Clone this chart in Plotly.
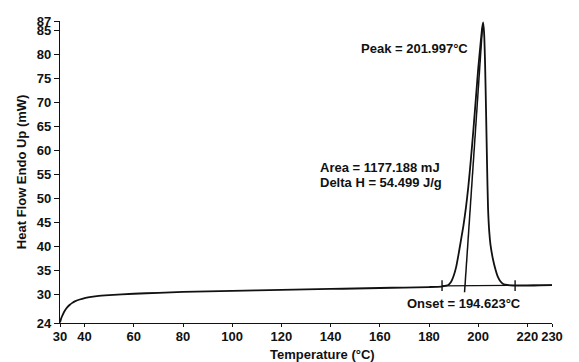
import plotly.graph_objects as go

# DSC heating scan: temperature (°C) vs heat flow (mW, endo up)
temperature = [30, 30.5, 31, 32, 33, 34, 35, 36, 38, 40, 42, 45, 50, 60, 70, 80, 90, 100,
               110, 120, 130, 140, 150, 160, 170, 180, 185, 187, 188, 189, 190, 191, 192,
               193, 194, 195, 196, 197, 198, 199, 200, 201, 201.6, 202, 202.4, 202.8,
               203.2, 203.6, 204, 204.5, 205, 206, 207, 208, 209, 210, 211, 213,
               216, 220, 225, 230]
heat_flow = [24.1, 25.0, 25.6, 26.6, 27.3, 27.8, 28.2, 28.5, 28.9, 29.2, 29.4, 29.6, 29.8,
             30.1, 30.3, 30.5, 30.6, 30.7, 30.8, 30.9, 31.0, 31.1, 31.2, 31.3, 31.4, 31.5,
             31.6, 31.8, 32.0, 32.6, 33.8, 35.6, 38.3, 41.3, 44.3, 48.0, 52.5, 58.0, 64.0,
             70.5, 77.0, 82.5, 85.5, 86.7, 84.5, 78.0, 68.0, 57.0, 48.0, 43.0, 40.3, 37.3,
             35.2, 33.6, 32.7, 32.2, 32.0, 31.85, 31.8, 31.8, 31.85, 31.9]

# Integration baseline and its limit markers
baseline_x = [185.3, 230]
baseline_y = [31.75, 31.9]
limit_x = [185.3, 215.0]
limit_half = 1.1

# Extrapolated onset tangent
onset_x = [194.45, 194.623, 201.7]
onset_y = [30.4, 31.75, 85.5]

x_ticks = [30, 40, 60, 80, 100, 120, 140, 160, 180, 200, 220, 230]
y_ticks = [24, 30, 35, 40, 45, 50, 55, 60, 65, 70, 75, 80, 85, 87]

font_family = "Liberation Sans, Arial, sans-serif"
ink = "#111111"

fig = go.Figure()
fig.add_trace(go.Scatter(x=temperature, y=heat_flow, mode="lines",
                         line=dict(color=ink, width=1.8, shape="spline", smoothing=0.6),
                         showlegend=False, hoverinfo="skip"))
fig.add_trace(go.Scatter(x=baseline_x, y=baseline_y, mode="lines",
                         line=dict(color=ink, width=1.2), showlegend=False))
for lx in limit_x:
    fig.add_trace(go.Scatter(x=[lx, lx], y=[31.8 - limit_half, 31.8 + limit_half],
                             mode="lines", line=dict(color=ink, width=1.4),
                             showlegend=False))
fig.add_trace(go.Scatter(x=onset_x, y=onset_y, mode="lines",
                         line=dict(color=ink, width=1.5), showlegend=False))

txt = dict(family=font_family, size=13, color=ink, weight="bold")
fig.add_annotation(x=196.8, y=81.3, text="Peak = 201.997°C", showarrow=False,
                   xanchor="right", yanchor="middle", font=txt)
fig.add_annotation(x=134.8, y=56.5, text="Area = 1177.188 mJ", showarrow=False,
                   xanchor="left", yanchor="middle", font=txt)
fig.add_annotation(x=134.8, y=53.4, text="Delta H = 54.499 J/g", showarrow=False,
                   xanchor="left", yanchor="middle", font=txt)
fig.add_annotation(x=170.2, y=28.0, text="Onset = 194.623°C", showarrow=False,
                   xanchor="left", yanchor="middle", font=txt)

# Axis titles
fig.add_annotation(x=136.9, y=-0.104, xref="x", yref="paper", text="Temperature (°C)",
                   showarrow=False, xanchor="center", yanchor="middle", font=txt)
fig.add_annotation(x=-0.079, y=0.5, xref="paper", yref="paper",
                   text="Heat Flow Endo Up (mW)", textangle=-90, showarrow=False,
                   xanchor="center", yanchor="middle", font=txt)

tick_font = dict(family=font_family, size=13, color=ink, weight="bold")
fig.update_layout(
    width=579, height=362,
    margin=dict(l=60, r=27, t=21, b=39),
    paper_bgcolor="white", plot_bgcolor="white",
    font=dict(family=font_family, size=13, color=ink),
    xaxis=dict(range=[30, 230], tickvals=x_ticks, ticktext=[str(v) for v in x_ticks],
               showgrid=False, zeroline=False, showline=True, linecolor=ink,
               linewidth=1.3, ticks="outside", ticklen=3, tickcolor=ink,
               ticklabelstandoff=-2, tickfont=tick_font, automargin=False),
    yaxis=dict(range=[24, 87], tickvals=y_ticks, ticktext=[str(v) for v in y_ticks],
               showgrid=False, zeroline=False, showline=True, linecolor=ink,
               linewidth=1.3, ticks="outside", ticklen=5, tickcolor=ink,
               tickfont=tick_font, automargin=False),
)

fig.write_html("out.html")
